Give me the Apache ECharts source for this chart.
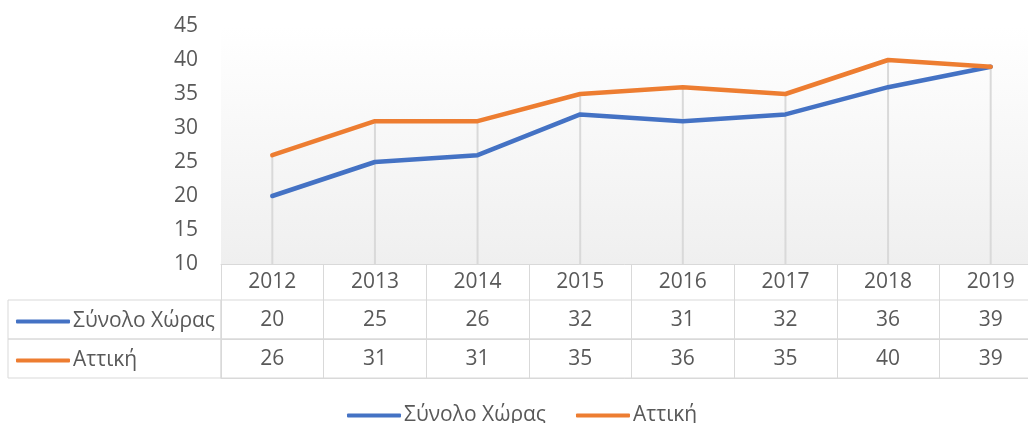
<!DOCTYPE html>
<html>
<head>
<meta charset="utf-8">
<script src="https://cdn.jsdelivr.net/npm/echarts@6/dist/echarts.min.js"></script>
<style>
  html, body { margin: 0; padding: 0; background: #fff; }
</style>
</head>
<body>
<div id="myChart" style="width: 1028px; height: 423px; padding: 0; margin: 0"></div>
<script>
// data
const years = ["2012", "2013", "2014", "2015", "2016", "2017", "2018", "2019"];
const totalName = "Σύνολο Χώρας";
const atticaName = "Αττική";
const totalValues = [20, 25, 26, 32, 31, 32, 36, 39];
const atticaValues = [26, 31, 31, 35, 36, 35, 40, 39];
const yTicks = { min: 10, max: 45, interval: 5 };

const textColor = "#595959";
const borderColor = "#d9d9d9";
const fontFamily = "'Open Sans', 'Noto Sans', sans-serif";
const fontSize = 21;

// drop lines go from the higher of the two series down to the axis
const dropValues = years.map((y, i) => Math.max(totalValues[i], atticaValues[i]));

const chart = echarts.init(document.getElementById("myChart"));

// legend icon: a short thick line, like the excel legend key
const legendIcon = "roundRect";

function rowLegend(name, top) {
  return {
    data: [name],
    left: 16,
    top: top,
    padding: 0,
    icon: legendIcon,
    itemWidth: 54,
    itemHeight: 4,
    selectedMode: false,
    textStyle: { color: textColor, fontSize: fontSize, fontFamily: fontFamily, padding: [0, 0, 0, -2] },
  };
}

function rowAxis(gridIndex, values) {
  return {
    type: "category",
    gridIndex: gridIndex,
    data: values.map(String),
    position: "bottom",
    axisLine: { show: true, lineStyle: { color: borderColor, width: 1 } },
    axisTick: { show: true, inside: true, length: 39, lineStyle: { color: borderColor, width: 1 } },
    axisLabel: { inside: true, margin: 8, color: textColor, fontSize: fontSize, fontFamily: fontFamily },
    splitLine: { show: false },
  };
}

function hiddenAxis(gridIndex, type) {
  return { type: type, gridIndex: gridIndex, show: false, data: type === "category" ? [""] : undefined };
}

function cell(left, top, width, height, extra) {
  return Object.assign({
    left: left, top: top, width: width, height: height,
    outerBoundsMode: "none", containLabel: false,
    show: true, borderColor: borderColor, borderWidth: 1,
  }, extra || {});
}

const option = {
  animation: false,
  textStyle: { fontFamily: fontFamily },
  grid: [
    // plot area
    cell(221, 26, 821, 238, {
      borderWidth: 0,
      backgroundColor: {
        type: "linear", x: 0, y: 0, x2: 0, y2: 1,
        colorStops: [
          { offset: 0, color: "#ffffff" },
          { offset: 0.13, color: "#fdfdfd" },
          { offset: 1, color: "#efefef" },
        ],
      },
    }),
    // data table rows
    cell(221, 300, 821, 39),
    cell(221, 339, 821, 39),
    // left column cells
    cell(8, 300, 213, 39),
    cell(8, 339, 213, 39),
  ],
  legend: [
    rowLegend(totalName, 311),
    rowLegend(atticaName, 350),
    {
      data: [totalName, atticaName],
      left: 347,
      top: 405,
      padding: 0,
      icon: legendIcon,
      itemWidth: 54,
      itemHeight: 4,
      itemGap: 30,
      selectedMode: false,
      textStyle: { color: textColor, fontSize: fontSize, fontFamily: fontFamily, padding: [0, 0, 0, -2] },
    },
  ],
  xAxis: [
    {
      type: "category",
      gridIndex: 0,
      data: years,
      axisLine: { show: true, lineStyle: { color: borderColor, width: 1 } },
      axisTick: { show: true, length: 36, lineStyle: { color: borderColor, width: 1 } },
      axisLabel: { margin: 8, color: textColor, fontSize: fontSize, fontFamily: fontFamily },
      splitLine: { show: false },
    },
    rowAxis(1, totalValues),
    rowAxis(2, atticaValues),
    hiddenAxis(3, "category"),
    hiddenAxis(4, "category"),
  ],
  yAxis: [
    {
      type: "value",
      gridIndex: 0,
      min: yTicks.min,
      max: yTicks.max,
      interval: yTicks.interval,
      axisLine: { show: false },
      axisTick: { show: false },
      splitLine: { show: false },
      axisLabel: { margin: 23, color: textColor, fontSize: fontSize, fontFamily: fontFamily },
    },
    hiddenAxis(1, "value"),
    hiddenAxis(2, "value"),
    hiddenAxis(3, "value"),
    hiddenAxis(4, "value"),
  ],
  series: [
    {
      name: "drop",
      type: "bar",
      data: dropValues,
      barWidth: 2,
      itemStyle: { color: borderColor },
      silent: true,
      z: 1,
    },
    {
      name: totalName,
      type: "line",
      data: totalValues,
      symbol: "none",
      color: "#4472C4",
      lineStyle: { width: 4.5, color: "#4472C4", cap: "round", join: "round" },
      z: 3,
    },
    {
      name: atticaName,
      type: "line",
      data: atticaValues,
      symbol: "none",
      color: "#ED7D31",
      lineStyle: { width: 4.5, color: "#ED7D31", cap: "round", join: "round" },
      z: 3,
    },
  ],
};

chart.setOption(option);
</script>
</body>
</html>
